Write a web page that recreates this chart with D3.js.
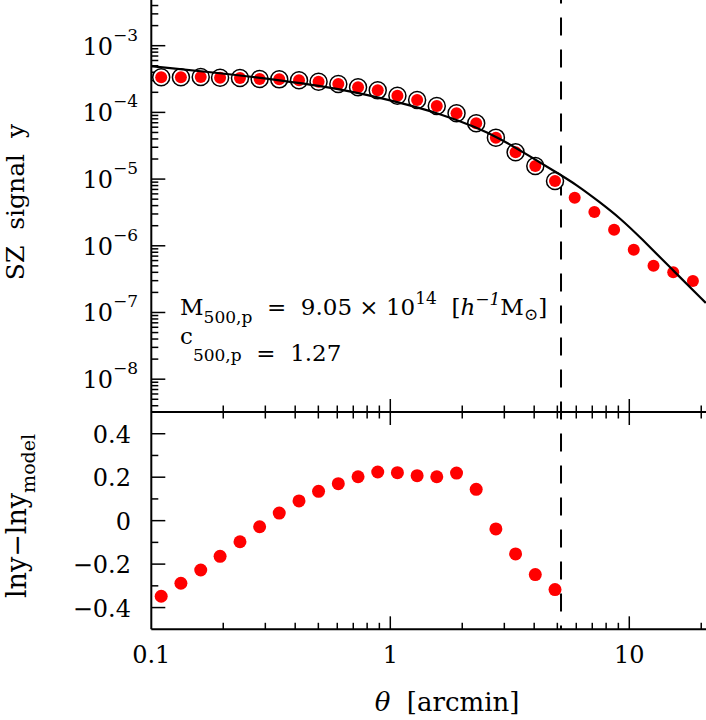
<!DOCTYPE html>
<html>
<head>
<meta charset="utf-8">
<script src="https://cdn.jsdelivr.net/npm/d3@7"></script>
<style>
  body { margin: 0; background: #fff; }
  svg { display: block; }
  text { font-family: "DejaVu Serif", serif; fill: #000; white-space: pre; }
</style>
</head>
<body>
<svg id="chart" width="706" height="720"></svg>
<script>
// angular radius of each annulus, arcmin
const theta = [0.110, 0.133, 0.161, 0.194, 0.235, 0.284, 0.343, 0.415, 0.501, 0.606,
  0.733, 0.886, 1.071, 1.295, 1.565, 1.893, 2.288, 2.766, 3.344, 4.043,
  4.889, 5.910, 7.145, 8.639, 10.44, 12.63, 15.27, 18.46];
// measured SZ signal y
const ySZ = [3.36e-4, 3.36e-4, 3.40e-4, 3.31e-4, 3.28e-4, 3.17e-4, 3.13e-4, 3.03e-4, 2.88e-4, 2.67e-4,
  2.38e-4, 2.14e-4, 1.78e-4, 1.53e-4, 1.25e-4, 9.7e-5, 6.87e-5, 4.18e-5, 2.52e-5, 1.57e-5,
  9.37e-6, 5.26e-6, 3.21e-6, 1.74e-6, 8.74e-7, 5.04e-7, 4.01e-7, 2.97e-7];
// ln y - ln y_model for the fitted points
const resid = [-0.348, -0.288, -0.227, -0.164, -0.097, -0.028, 0.035, 0.091, 0.135, 0.170,
  0.202, 0.224, 0.221, 0.207, 0.202, 0.219, 0.144, -0.038, -0.153, -0.248, -0.317];
// best fit model curve
const modelTheta = [0.100, 0.110, 0.235, 0.345, 0.501, 0.736, 1.073, 1.614, 2.304, 2.866,
  3.821, 4.900, 6.0, 7.52, 9.2, 11.09, 15.05, 20.9];
const modelY = [4.91e-4, 4.77e-4, 3.61e-4, 3.01e-4, 2.52e-4, 1.97e-4, 1.43e-4, 9.62e-5, 5.94e-5, 4.09e-5,
  2.23e-5, 1.29e-5, 8.28e-6, 4.52e-6, 2.55e-6, 1.35e-6, 4.49e-7, 1.39e-7];
const thetaCut = 5.18;   // fit radius
const nFit = resid.length;

const svg = d3.select("#chart");

const x = d3.scaleLog().domain([0.1, 20.94]).range([151.3, 706]);
const yTop = d3.scaleLog().domain([Math.pow(10, -8.492), Math.pow(10, -2.315)]).range([412, 0]);
const yBot = d3.scaleLinear().domain([-0.5, 0.5]).range([629.3, 412]);

const pLeft = 151.3, pRight = 706, pTop = 0, pMid = 412, pBottom = 629.3;

// minor/major log ticks
function logTicks(lo, hi) {
  const out = [];
  for (let e = Math.floor(Math.log10(lo)); e <= Math.ceil(Math.log10(hi)); e++) {
    for (let m = 1; m <= 9; m++) {
      const v = m * Math.pow(10, e);
      if (v >= lo * 0.999 && v <= hi * 1.001) out.push({v: v, major: m == 1});
    }
  }
  return out;
}

const frame = svg.append("g").attr("stroke", "#000").attr("fill", "none");

// frame lines
frame.append("line").attr("x1", pLeft).attr("x2", pLeft).attr("y1", pTop).attr("y2", pBottom).attr("stroke-width", 2);
frame.append("line").attr("x1", pLeft).attr("x2", pRight).attr("y1", pMid).attr("y2", pMid).attr("stroke-width", 2);
frame.append("line").attr("x1", pLeft).attr("x2", pRight).attr("y1", pBottom).attr("y2", pBottom).attr("stroke-width", 2);

// x ticks on shared line and bottom
const xt = logTicks(0.1, 20.94).filter(d => d.v > 0.1001);
frame.selectAll(".xtm").data(xt).enter().append("line")
  .attr("x1", d => x(d.v)).attr("x2", d => x(d.v))
  .attr("y1", d => pMid - (d.major ? 13 : 6.5))
  .attr("y2", d => pMid + (d.major ? 13 : 6.5))
  .attr("stroke-width", 1.5);
frame.selectAll(".xtb").data(xt).enter().append("line")
  .attr("x1", d => x(d.v)).attr("x2", d => x(d.v))
  .attr("y1", pBottom).attr("y2", d => pBottom - (d.major ? 13 : 6.5))
  .attr("stroke-width", 1.5);

// y ticks top panel
const yt = logTicks(Math.pow(10, -8.492), Math.pow(10, -2.315));
frame.selectAll(".ytt").data(yt).enter().append("line")
  .attr("x1", pLeft).attr("x2", d => pLeft + (d.major ? 14 : 7))
  .attr("y1", d => yTop(d.v)).attr("y2", d => yTop(d.v))
  .attr("stroke-width", 1.5);

// y ticks bottom panel
const ybt = d3.range(-4, 5).map(i => ({v: i / 10, major: i % 2 == 0}));
frame.selectAll(".ytb").data(ybt).enter().append("line")
  .attr("x1", pLeft).attr("x2", d => pLeft + (d.major ? 14 : 7))
  .attr("y1", d => yBot(d.v)).attr("y2", d => yBot(d.v))
  .attr("stroke-width", 1.5);

// tick labels
const labels = svg.append("g").attr("font-size", 24);

[-3, -4, -5, -6, -7, -8].forEach(function(e) {
  const t = labels.append("text")
    .attr("x", 138).attr("y", yTop(Math.pow(10, e)) + 9)
    .attr("text-anchor", "end");
  t.append("tspan").text("10");
  t.append("tspan").attr("font-size", 17).attr("dy", -14).text("\u2212" + (-e));
});

[0.4, 0.2, 0, -0.2, -0.4].forEach(function(v) {
  labels.append("text")
    .attr("x", 131).attr("y", yBot(v) + 9)
    .attr("text-anchor", "end")
    .text(v == 0 ? "0" : (v < 0 ? "\u2212" : "") + Math.abs(v).toFixed(1));
});

[[0.1, "0.1"], [1, "1"], [10, "10"]].forEach(function(d) {
  labels.append("text")
    .attr("x", x(d[0])).attr("y", 663)
    .attr("text-anchor", "middle")
    .text(d[1]);
});

// axis titles
svg.append("text")
  .attr("transform", "translate(24,202) rotate(-90)")
  .attr("text-anchor", "middle").attr("font-size", 25)
  .text("SZ  signal  y");

const yl = svg.append("text")
  .attr("transform", "translate(26,516) rotate(-90)")
  .attr("text-anchor", "middle").attr("font-size", 27);
yl.append("tspan").text("lny\u2212lny");
yl.append("tspan").attr("font-size", 19).attr("dy", 9).text("model");

const xl = svg.append("text")
  .attr("x", 447).attr("y", 711)
  .attr("text-anchor", "middle").attr("font-size", 26);
xl.append("tspan").attr("font-style", "italic").text("\u03b8");
xl.append("tspan").text("  [arcmin]");

// annotation
const a1 = svg.append("text").attr("x", 180).attr("y", 315).attr("font-size", 23);
a1.append("tspan").text("M");
a1.append("tspan").attr("font-size", 17).attr("dy", 8).text("500,p");
a1.append("tspan").attr("dy", -8).text("  =  9.05 \u00d7 10");
a1.append("tspan").attr("font-size", 17).attr("dy", -11).text("14");
a1.append("tspan").attr("dy", 11).text("  [");
a1.append("tspan").attr("font-style", "italic").text("h");
a1.append("tspan").attr("font-size", 17).attr("font-style", "italic").attr("dy", -10).text("\u22121");
a1.append("tspan").attr("dy", 10).text("M");
a1.append("tspan").attr("font-size", 17).attr("dy", 5).text("\u2299");
a1.append("tspan").attr("dy", -5).text("]");

const a2 = svg.append("text").attr("x", 180).attr("y", 344).attr("font-size", 23);
a2.append("tspan").text("c");
a2.append("tspan").attr("font-size", 17).attr("dy", 17).text("500,p");
a2.append("tspan").text("  =  1.27");

// fit radius
svg.append("line")
  .attr("x1", x(thetaCut)).attr("x2", x(thetaCut))
  .attr("y1", pTop).attr("y2", pBottom)
  .attr("stroke", "#000").attr("stroke-width", 2)
  .attr("stroke-dasharray", "18,14").attr("stroke-dashoffset", 14.5);

// data points top panel
const pts = svg.append("g");
pts.selectAll(".ring").data(theta.slice(0, nFit)).enter().append("circle")
  .attr("cx", d => x(d)).attr("cy", (d, i) => yTop(ySZ[i]))
  .attr("r", 8.5).attr("fill", "#fff").attr("stroke", "#000").attr("stroke-width", 1.5);
pts.selectAll(".dot").data(theta).enter().append("circle")
  .attr("cx", d => x(d)).attr("cy", (d, i) => yTop(ySZ[i]))
  .attr("r", 6).attr("fill", "#ff0000");

// model curve
const line = d3.line()
  .x(d => x(d[0])).y(d => yTop(d[1]))
  .curve(d3.curveBasis);
svg.append("path")
  .attr("d", line(modelTheta.map((t, i) => [t, modelY[i]])))
  .attr("fill", "none").attr("stroke", "#000").attr("stroke-width", 2.2);

// residuals
svg.append("g").selectAll("circle").data(resid).enter().append("circle")
  .attr("cx", (d, i) => x(theta[i])).attr("cy", d => yBot(d))
  .attr("r", 6.5).attr("fill", "#ff0000");
</script>
</body>
</html>
